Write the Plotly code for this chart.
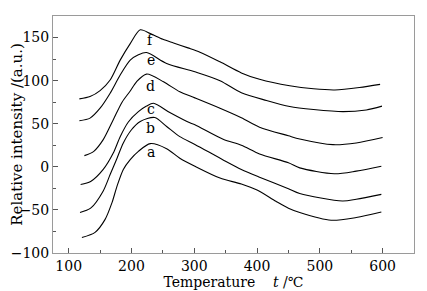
import plotly.graph_objects as go

# Curve data (temperature in degC, relative intensity a.u.)
f_x = [117, 134, 150, 166, 182, 198, 214, 230, 250, 267, 290, 309, 341, 375, 404, 452, 490, 524, 563, 596]
f_y = [78.8, 81.5, 88.4, 100.7, 123.8, 143, 159, 154.6, 148, 143.7, 138, 133, 121.8, 109, 101.5, 94, 90.5, 89.2, 92, 95.7]

e_x = [117, 134, 150, 166, 182, 198, 211, 224, 256, 301, 341, 375, 415, 452, 490, 537, 574, 599]
e_y = [53.4, 56.5, 68, 85.4, 106.5, 123.8, 130, 132.6, 120, 110.3, 100, 86, 77, 70, 66.5, 64, 66, 70.4]

d_x = [125, 140, 155, 171, 185, 198, 208, 224, 251, 277, 301, 341, 375, 404, 450, 468, 521, 558, 600]
d_y = [13, 18, 31.5, 54.6, 75, 88, 98.7, 107.6, 98.7, 87, 80, 68, 57, 46, 36, 32.3, 25.7, 27.7, 34]

c_x = [119, 135, 155, 171, 182, 195, 211, 224, 235, 261, 293, 301, 346, 375, 404, 450, 468, 523, 558, 598]
c_y = [-20.5, -17, -3, 16, 35, 52, 64, 70.5, 73.8, 63, 51, 48.8, 32, 25, 15, 4.6, -1.2, -8, -5, 0.7]

b_x = [118, 135, 155, 166, 177, 187, 200, 214, 237, 256, 277, 301, 346, 375, 404, 450, 468, 536, 558, 598]
b_y = [-53, -48, -28, -9, 10, 27.7, 43, 52.6, 57.2, 46.8, 35, 26, 8, -3, -12, -25.4, -31, -39.7, -37.7, -32]

a_x = [121, 142, 158, 169, 177, 187, 198, 211, 230, 256, 277, 301, 341, 375, 400, 430, 450, 468, 518, 558, 598]
a_y = [-82, -76, -61, -41.5, -22.4, -3, 8.4, 18, 26.9, 21, 10, 0.7, -13, -20, -27, -40, -48, -53, -62, -58.8, -52.4]

labels = ["a", "b", "c", "d", "e", "f"]
label_x = [231, 231, 231, 231, 231, 231]
label_y = [17.6, 45.3, 67.2, 93.8, 123.8, 146.8]

x_ticks = [100, 200, 300, 400, 500, 600]
y_ticks = [-100, -50, 0, 50, 100, 150]

series = [(a_x, a_y), (b_x, b_y), (c_x, c_y), (d_x, d_y), (e_x, e_y), (f_x, f_y)]

FONT = "DejaVu Serif, serif"
FS = 14
fig = go.Figure()
for (xs, ys) in series:
    fig.add_trace(go.Scatter(x=xs, y=ys, mode="lines",
                             line=dict(color="black", width=1.1, shape="spline", smoothing=0.8),
                             showlegend=False, hoverinfo="skip"))

for t, lx, ly in zip(labels, label_x, label_y):
    fig.add_annotation(x=lx, y=ly, text=t, showarrow=False,
                       font=dict(family=FONT, size=FS, color="black"))

axis_common = dict(showline=True, linecolor="#9a9a9a", linewidth=1, mirror=True,
                   ticks="inside", ticklen=5, tickcolor="#555", showgrid=False, zeroline=False,
                   automargin=False,
                   tickfont=dict(family=FONT, size=FS, color="black"))

fig.update_xaxes(range=[75, 650], tickvals=x_ticks,
                 minor=dict(ticks="inside", ticklen=3, dtick=50, tick0=50, tickcolor="#555"),
                 title=dict(text="Temperature\u00a0\u00a0\u00a0\u00a0<i>t</i> /\u2103",
                            font=dict(family=FONT, size=FS, color="black"), standoff=0),
                 **axis_common)
fig.update_yaxes(range=[-100, 175], tickvals=y_ticks,
                 minor=dict(ticks="inside", ticklen=3, dtick=25, tick0=-75, tickcolor="#555"),
                 title=dict(text="Relative intensity /(a.u.)",
                            font=dict(family=FONT, size=15, color="black"), standoff=2),
                 **axis_common)

# page body has an 8px margin, so the figure is sized to fit the window
fig.update_layout(width=419, height=283, margin=dict(l=45, r=13, t=8, b=38),
                  paper_bgcolor="white", plot_bgcolor="white")

fig.write_html("out.html")
